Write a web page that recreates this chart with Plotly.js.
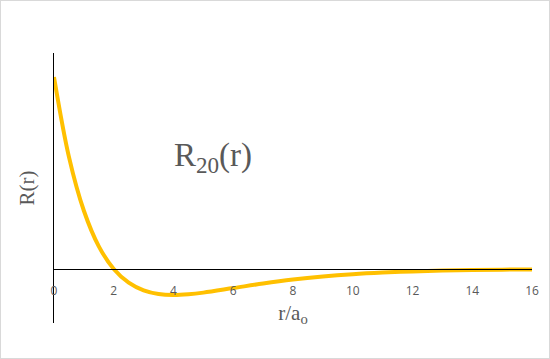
<!DOCTYPE html>
<html>
<head>
<meta charset="utf-8">
<script src="https://cdn.plot.ly/plotly-3.0.1.min.js"></script>
<style>
html,body{margin:0;padding:0;background:#fff;}
#wrap{position:relative;width:550px;height:359px;}
#chart{width:550px;height:359px;}
#frame{position:absolute;left:0;top:0;width:550px;height:359px;box-sizing:border-box;border:1px solid #d9d9d9;pointer-events:none;}
</style>
</head>
<body>
<div id="wrap"><div id="chart"></div><div id="frame"></div></div>
<script>
// r / a0 values and R20(r) values
const rValues = [0, 0.5, 1, 1.5, 2, 2.5, 3, 3.5, 4, 4.5, 5, 6, 7, 8, 9, 10, 11, 12, 13, 14, 15, 16];
const R20Values = [2.0, 1.168, 0.607, 0.236, 0, -0.143, -0.223, -0.261, -0.271, -0.263, -0.246, -0.199, -0.151, -0.110, -0.078, -0.054, -0.037, -0.025, -0.016, -0.011, -0.007, -0.004];
const xTicks = [0, 2, 4, 6, 8, 10, 12, 14, 16];
const seriesLabel = 'R<sub>20</sub>(r)';
const xLabel = 'r/a<sub>o</sub>';
const yLabel = 'R(r)';

const gray = '#595959';
const trace = {
  x: rValues, y: R20Values, type: 'scatter', mode: 'lines',
  line: {color: '#FFC000', width: 4, shape: 'spline', smoothing: 1},
  hoverinfo: 'none', showlegend: false
};
const layout = {
  width: 550, height: 359,
  margin: {l: 54, r: 18, t: 53, b: 36},
  paper_bgcolor: '#fff', plot_bgcolor: '#fff',
  xaxis: {
    range: [0, 16], tickvals: xTicks, ticktext: xTicks.map(String),
    showgrid: false, zeroline: false, showline: true, linecolor: '#000', linewidth: 1,
    anchor: 'free', position: 0.2, ticks: '', ticklabelstandoff: 11,
    tickfont: {family: 'Open Sans, Liberation Sans, sans-serif', size: 12, color: gray},
    title: {text: xLabel, font: {family: 'Liberation Serif, DejaVu Serif, serif', size: 21, color: gray}, standoff: 6}
  },
  yaxis: {
    range: [-0.5625, 2.25], showgrid: false, zeroline: false, showline: true,
    linecolor: '#000', linewidth: 1, showticklabels: false, ticks: '',
    title: {text: yLabel, font: {family: 'Liberation Serif, DejaVu Serif, serif', size: 21, color: gray}, standoff: 12}
  },
  annotations: [{
    text: seriesLabel, xref: 'paper', yref: 'paper',
    x: (213 - 54) / 478, y: (323 - 157) / 270, xanchor: 'center', yanchor: 'middle',
    showarrow: false, font: {family: 'Liberation Serif, DejaVu Serif, serif', size: 33, color: gray}
  }]
};
Plotly.newPlot('chart', [trace], layout, {staticPlot: true, displayModeBar: false});
</script>
</body>
</html>
